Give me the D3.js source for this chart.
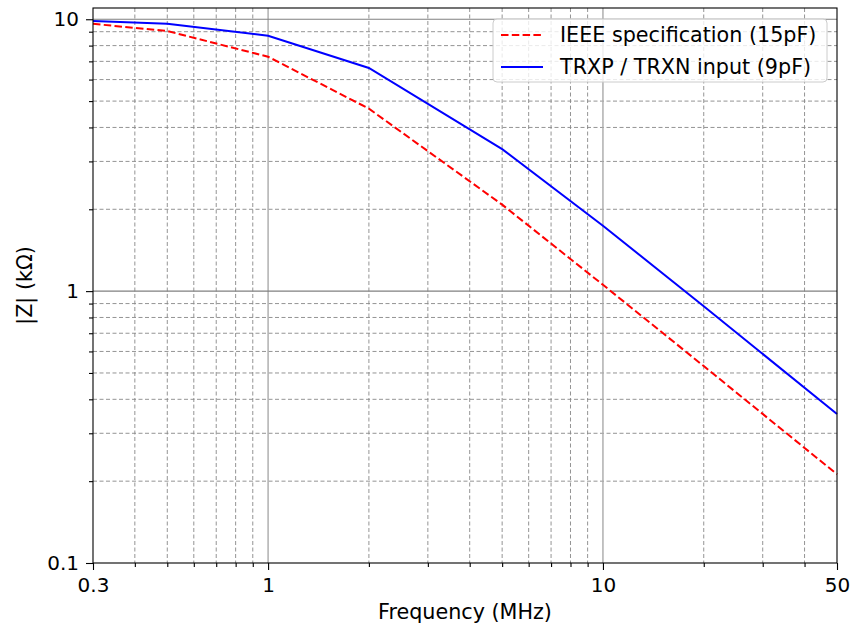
<!DOCTYPE html>
<html>
<head>
<meta charset="utf-8">
<script src="https://cdn.jsdelivr.net/npm/d3@7"></script>
<style>
  body { margin: 0; background: #fff; }
  svg { display: block; font-family: "DejaVu Sans", sans-serif; }
</style>
</head>
<body>
<svg id="chart" width="854" height="629"></svg>
<script>
// frequencies in MHz
const freqs = [0.3, 0.5, 1, 2, 5, 10, 20, 50];
// |Z| in kOhm
const ieeeValues = [9.62, 9.05, 7.28, 4.69, 2.08, 1.055, 0.53, 0.212];
const trxValues = [9.86, 9.62, 8.70, 6.62, 3.33, 1.74, 0.88, 0.353];

const seriesNames = ["IEEE specification (15pF)", "TRXP / TRXN input (9pF)"];
const xTickValues = [0.3, 1, 10, 50];
const xTickLabels = ["0.3", "1", "10", "50"];
const yTickValues = [0.1, 1, 10];
const yTickLabels = ["0.1", "1", "10"];

const LEFT = 93, RIGHT = 837, TOP = 8, BOTTOM = 563,
    FONT = 20,
    LABEL_FONT = 20.7;

const svg = d3.select("#chart");

const x = d3.scaleLog().domain([0.3, 50]).range([LEFT, RIGHT]);
const y = d3.scaleLog().domain([0.1, 11]).range([BOTTOM, TOP]);

// minor positions
const xMinor = [0.4, 0.5, 0.6, 0.7, 0.8, 0.9, 2, 3, 4, 5, 6, 7, 8, 9, 20, 30, 40];
const yMinor = [0.2, 0.3, 0.4, 0.5, 0.6, 0.7, 0.8, 0.9, 2, 3, 4, 5, 6, 7, 8, 9];

const grid = svg.append("g");

grid.selectAll(".xminor").data(xMinor).enter().append("line")
    .attr("x1", (d) => x(d)).attr("x2", (d) => x(d))
    .attr("y1", TOP).attr("y2", BOTTOM)
    .attr("stroke", "#888").attr("stroke-width", 0.9)
    .attr("stroke-dasharray", "4,2.5");

grid.selectAll(".yminor").data(yMinor).enter().append("line")
    .attr("x1", LEFT).attr("x2", RIGHT)
    .attr("y1", (d) => y(d)).attr("y2", (d) => y(d))
    .attr("stroke", "#888").attr("stroke-width", 0.9)
    .attr("stroke-dasharray", "4,2.5");

grid.selectAll(".xmajor").data([1, 10]).enter().append("line")
    .attr("x1", (d) => x(d)).attr("x2", (d) => x(d))
    .attr("y1", TOP).attr("y2", BOTTOM)
    .attr("stroke", "#aaa").attr("stroke-width", 1.4);

grid.selectAll(".ymajor").data([1, 10]).enter().append("line")
    .attr("x1", LEFT).attr("x2", RIGHT)
    .attr("y1", (d) => y(d)).attr("y2", (d) => y(d))
    .attr("stroke", "#808080").attr("stroke-width", 1.1);

// lines
const line = (vals) => d3.line()
    .x((d, i) => x(freqs[i]))
    .y((d) => y(d))(vals);

svg.append("path")
    .attr("d", line(ieeeValues))
    .attr("fill", "none").attr("stroke", "#ff0000")
    .attr("stroke-width", 2).attr("stroke-dasharray", "7.5,3.3");

svg.append("path")
    .attr("d", line(trxValues))
    .attr("fill", "none").attr("stroke", "#0000ff")
    .attr("stroke-width", 2);

// axes
const xAxis = d3.axisBottom(x)
    .tickValues(xTickValues)
    .tickFormat((d, i) => xTickLabels[i])
    .tickSizeOuter(0).tickSize(7).tickPadding(8);

const xMinorAxis = d3.axisBottom(x)
    .tickValues(xMinor).tickFormat("")
    .tickSizeOuter(0).tickSize(4);

const yAxis = d3.axisLeft(y)
    .tickValues(yTickValues)
    .tickFormat((d, i) => yTickLabels[i])
    .tickSizeOuter(0).tickSize(7).tickPadding(7);

const yMinorAxis = d3.axisLeft(y)
    .tickValues(yMinor).tickFormat("")
    .tickSizeOuter(0).tickSize(4);

[xAxis, xMinorAxis].forEach((a) => {
    svg.append("g").attr("transform", `translate(0,${BOTTOM})`).call(a)
        .call((g) => g.select(".domain").remove());
});
[yAxis, yMinorAxis].forEach((a) => {
    svg.append("g").attr("transform", `translate(${LEFT},0)`).call(a)
        .call((g) => g.select(".domain").remove());
});

svg.selectAll(".tick line").attr("stroke", "#000").attr("stroke-width", 1.1);
svg.selectAll(".tick text")
    .attr("fill", "#000")
    .style("font-size", FONT + "px")
    .style("font-family", "DejaVu Sans");

// frame
svg.append("rect")
    .attr("x", LEFT).attr("y", TOP)
    .attr("width", RIGHT - LEFT).attr("height", BOTTOM - TOP)
    .attr("fill", "none").attr("stroke", "#000").attr("stroke-width", 1.1);

// axis labels
svg.append("text")
    .attr("x", (LEFT + RIGHT) / 2).attr("y", 619)
    .attr("text-anchor", "middle")
    .style("font-size", LABEL_FONT + "px")
    .text("Frequency (MHz)");

svg.append("text")
    .attr("transform", `translate(32,${(TOP + BOTTOM) / 2}) rotate(-90)`)
    .attr("text-anchor", "middle")
    .style("font-size", LABEL_FONT + "px")
    .text("|Z| (kΩ)");

// legend
const legend = svg.append("g");
legend.append("rect")
    .attr("x", 493).attr("y", 19)
    .attr("width", 334).attr("height", 63)
    .attr("rx", 4)
    .attr("fill", "#fff").attr("fill-opacity", 0.8)
    .attr("stroke", "#ccc").attr("stroke-width", 1);

const legendItems = [
    {name: seriesNames[0], color: "#ff0000", dash: "7.5,3.3"},
    {name: seriesNames[1], color: "#0000ff", dash: null}
];

legendItems.forEach((item, i) => {
    const ly = 35 + i * 32;
    legend.append("line")
        .attr("x1", 501).attr("x2", 543)
        .attr("y1", ly).attr("y2", ly)
        .attr("stroke", item.color).attr("stroke-width", 2)
        .attr("stroke-dasharray", item.dash);
    legend.append("text")
        .attr("x", 560).attr("y", ly + 7)
        .style("font-size", LABEL_FONT + "px")
        .text(item.name);
});
</script>
</body>
</html>
